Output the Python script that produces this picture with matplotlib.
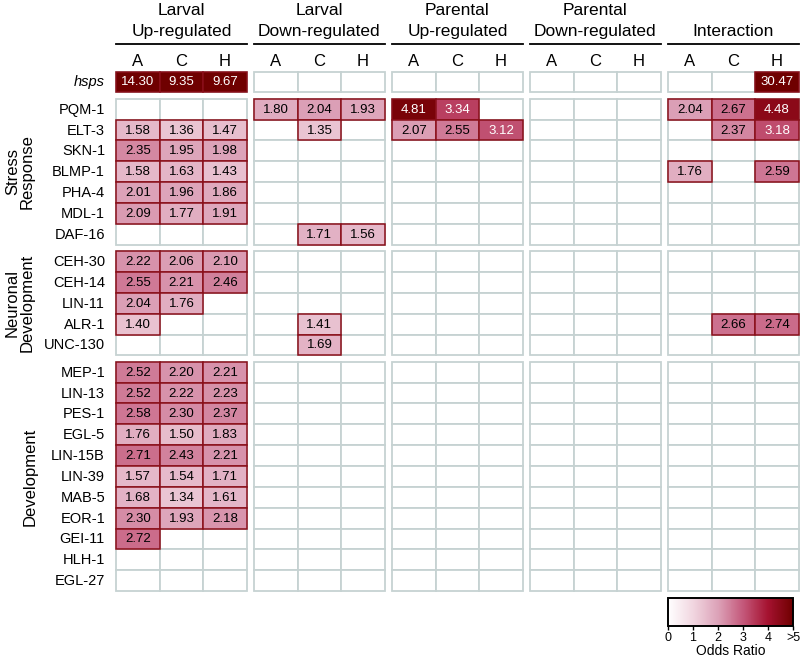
import numpy as np
import matplotlib
matplotlib.use("Agg")
import matplotlib.pyplot as plt
from matplotlib.patches import Rectangle
from matplotlib.colors import LinearSegmentedColormap, Normalize
import matplotlib.colorbar as mcolorbar

plt.rcParams['font.family'] = ['Liberation Sans', 'DejaVu Sans']

N = None
group_titles = [("Larval", "Up-regulated"), ("Larval", "Down-regulated"),
                ("Parental", "Up-regulated"), ("Parental", "Down-regulated"),
                ("", "Interaction")]
strains = ["A", "C", "H"]

block_labels = ["", "Stress\nResponse", "Neuronal\nDevelopment", "Development"]
block_genes = [
    ["hsps"],
    ["PQM-1", "ELT-3", "SKN-1", "BLMP-1", "PHA-4", "MDL-1", "DAF-16"],
    ["CEH-30", "CEH-14", "LIN-11", "ALR-1", "UNC-130"],
    ["MEP-1", "LIN-13", "PES-1", "EGL-5", "LIN-15B", "LIN-39", "MAB-5",
     "EOR-1", "GEI-11", "HLH-1", "EGL-27"],
]

# odds ratios per group, one [A, C, H] triple per gene (row order above)
larval_up = [
    [14.30, 9.35, 9.67],
    [N, N, N], [1.58, 1.36, 1.47], [2.35, 1.95, 1.98], [1.58, 1.63, 1.43],
    [2.01, 1.96, 1.86], [2.09, 1.77, 1.91], [N, N, N],
    [2.22, 2.06, 2.10], [2.55, 2.21, 2.46], [2.04, 1.76, N], [1.40, N, N], [N, N, N],
    [2.52, 2.20, 2.21], [2.52, 2.22, 2.23], [2.58, 2.30, 2.37], [1.76, 1.50, 1.83],
    [2.71, 2.43, 2.21], [1.57, 1.54, 1.71], [1.68, 1.34, 1.61], [2.30, 1.93, 2.18],
    [2.72, N, N], [N, N, N], [N, N, N],
]
larval_down = [
    [N, N, N],
    [1.80, 2.04, 1.93], [N, 1.35, N], [N, N, N], [N, N, N],
    [N, N, N], [N, N, N], [N, 1.71, 1.56],
    [N, N, N], [N, N, N], [N, N, N], [N, 1.41, N], [N, 1.69, N],
    [N, N, N], [N, N, N], [N, N, N], [N, N, N], [N, N, N], [N, N, N],
    [N, N, N], [N, N, N], [N, N, N], [N, N, N], [N, N, N],
]
parental_up = [
    [N, N, N],
    [4.81, 3.34, N], [2.07, 2.55, 3.12], [N, N, N], [N, N, N],
    [N, N, N], [N, N, N], [N, N, N],
    [N, N, N], [N, N, N], [N, N, N], [N, N, N], [N, N, N],
    [N, N, N], [N, N, N], [N, N, N], [N, N, N], [N, N, N], [N, N, N],
    [N, N, N], [N, N, N], [N, N, N], [N, N, N], [N, N, N],
]
parental_down = [[N, N, N] for _ in range(24)]
interaction = [
    [N, N, 30.47],
    [2.04, 2.67, 4.48], [N, 2.37, 3.18], [N, N, N], [1.76, N, 2.59],
    [N, N, N], [N, N, N], [N, N, N],
    [N, N, N], [N, N, N], [N, N, N], [N, 2.66, 2.74], [N, N, N],
    [N, N, N], [N, N, N], [N, N, N], [N, N, N], [N, N, N], [N, N, N],
    [N, N, N], [N, N, N], [N, N, N], [N, N, N], [N, N, N],
]
group_data = [larval_up, larval_down, parental_up, parental_down, interaction]

cbar_ticks = [0, 1, 2, 3, 4, 5]
cbar_ticklabels = ["0", "1", "2", "3", "4", ">5"]

cmap = LinearSegmentedColormap.from_list("odds", [
    (0.0, "#ffffff"), (0.2, "#f1d6e0"), (0.4, "#dca2b8"),
    (0.6, "#c4587a"), (0.8, "#a51230"), (1.0, "#6f0000")])
norm = Normalize(0, 5)

# layout (pixels)
W, H = 800, 660
x0, gpitch, cw = 116.0, 138.0, 43.6
y0, rh, bgap = 71.5, 20.85, 6.4
empty_edge = "#c6d2d2"
fill_edge = "#8a0f1a"

fig = plt.figure(figsize=(W / 100, H / 100), dpi=100)
ax = fig.add_axes([0, 0, 1, 1])
ax.set_xlim(0, W)
ax.set_ylim(H, 0)
ax.axis("off")

# row positions
row_tops = []
block_spans = []
y = y0
for genes in block_genes:
    start = y
    for g in genes:
        row_tops.append(y)
        y += rh
    block_spans.append((start, y))
    y += bgap
all_genes = [g for genes in block_genes for g in genes]

def col_left(gi, ci):
    return x0 + gi * gpitch + ci * cw

# empty grid
for gi in range(5):
    for ci in range(3):
        for ri in range(len(all_genes)):
            ax.add_patch(Rectangle((col_left(gi, ci), row_tops[ri]), cw, rh,
                                   facecolor="white", edgecolor=empty_edge,
                                   lw=1.3, zorder=1))
# filled cells
for gi, data in enumerate(group_data):
    for ri, triple in enumerate(data):
        for ci, v in enumerate(triple):
            if v is None:
                continue
            xl, yt = col_left(gi, ci), row_tops[ri]
            ax.add_patch(Rectangle((xl, yt), cw, rh,
                                   facecolor=cmap(norm(min(v, 5))),
                                   edgecolor=fill_edge, lw=1.1, zorder=3))
            ax.text(xl + cw / 2, yt + rh / 2 + 0.5, f"{v:.2f}", ha="center",
                    va="center", fontsize=9.5,
                    color="white" if v >= 3 else "black", zorder=4)

# row labels
for ri, g in enumerate(all_genes):
    ax.text(105, row_tops[ri] + rh / 2 + 0.5, g, ha="right", va="center",
            fontsize=10.5, style="italic" if g == "hsps" else "normal")

# block labels
for bi, lab in enumerate(block_labels):
    if not lab:
        continue
    ys = sum(block_spans[bi]) / 2
    xs = 30 if "\n" not in lab else 20
    ax.text(xs, ys, lab, rotation=90, ha="center", va="center",
            fontsize=12, linespacing=1.0)

# group headers
for gi, (l1, l2) in enumerate(group_titles):
    xl = col_left(gi, 0)
    xr = col_left(gi, 3)
    xc = (xl + xr) / 2
    if l1:
        ax.text(xc, 15, l1, ha="center", va="baseline", fontsize=12.5)
    ax.text(xc, 36, l2, ha="center", va="baseline", fontsize=12.5)
    ax.plot([xl, xr], [44, 44], color="black", lw=1.3)
    for ci, s in enumerate(strains):
        ax.text(col_left(gi, ci) + cw / 2, 66, s, ha="center", va="baseline",
                fontsize=12)

# colorbar
cax = fig.add_axes([668 / W, 1 - 626 / H, 125 / W, 28 / H])
cb = mcolorbar.ColorbarBase(cax, cmap=cmap, norm=norm, orientation="horizontal",
                            ticks=cbar_ticks)
cb.set_ticklabels(cbar_ticklabels)
cax.tick_params(labelsize=9, length=3, width=1, pad=1)
cb.outline.set_linewidth(1.4)
cb.set_label("Odds Ratio", fontsize=10, labelpad=0)

fig.savefig("out.png", dpi=100)
